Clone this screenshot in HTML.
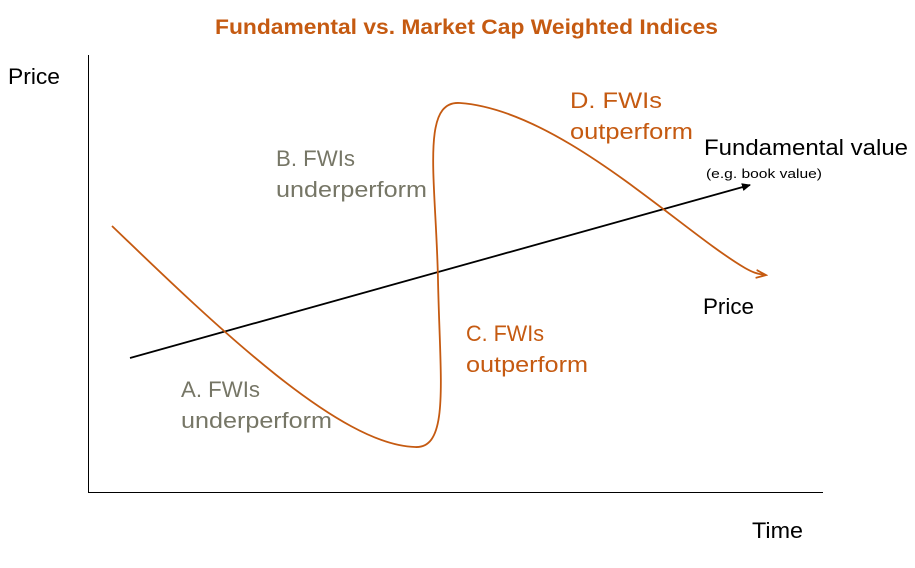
<!DOCTYPE html>
<html><head><meta charset="utf-8"><style>
html,body{margin:0;padding:0;background:#fff;}
svg{display:block;}
text{font-family:"Liberation Sans",sans-serif;}
</style></head><body>
<svg width="915" height="568" viewBox="0 0 915 568" xmlns="http://www.w3.org/2000/svg">
<defs>
<marker id="ab" markerWidth="10" markerHeight="10" refX="8" refY="5" orient="auto" markerUnits="userSpaceOnUse"><path d="M0,1 L9,5 L0,9 Z" fill="#000"/></marker>
<marker id="ao" markerWidth="12" markerHeight="10" refX="9" refY="5" orient="auto" markerUnits="userSpaceOnUse"><path d="M0,1 L10,5 L0,9" fill="none" stroke="#C55A11" stroke-width="1.8"/></marker>
</defs>
<text x="215" y="34" font-size="21" font-weight="bold" fill="#C55A11" textLength="503" lengthAdjust="spacingAndGlyphs">Fundamental vs. Market Cap Weighted Indices</text>
<text x="8" y="84" font-size="22" fill="#000" textLength="52" lengthAdjust="spacingAndGlyphs">Price</text>
<text x="752" y="538" font-size="22" fill="#000" textLength="51" lengthAdjust="spacingAndGlyphs">Time</text>
<line x1="88.5" y1="55" x2="88.5" y2="492" stroke="#000" stroke-width="1"/>
<line x1="88" y1="492.5" x2="823" y2="492.5" stroke="#000" stroke-width="1"/>
<line x1="130" y1="358" x2="750" y2="185" stroke="#000" stroke-width="1.8" marker-end="url(#ab)"/>
<path d="M112,226 C220,330 340,445 415,447 C450,449 440,380 438,280 C436,180 420,100 460,103 C560,110 680,230 745,268 C752,272 757,274 765,275" fill="none" stroke="#C55A11" stroke-width="1.8" marker-end="url(#ao)"/>
<text x="704" y="155" font-size="22" fill="#000" textLength="204" lengthAdjust="spacingAndGlyphs">Fundamental value</text>
<text x="706" y="178" font-size="13" fill="#000" textLength="116" lengthAdjust="spacingAndGlyphs">(e.g. book value)</text>
<text x="703" y="314" font-size="22" fill="#000" textLength="51" lengthAdjust="spacingAndGlyphs">Price</text>
<text x="276" y="166" font-size="22" fill="#767666" textLength="79" lengthAdjust="spacingAndGlyphs">B. FWIs</text>
<text x="276" y="197" font-size="22" fill="#767666" textLength="151" lengthAdjust="spacingAndGlyphs">underperform</text>
<text x="181" y="397" font-size="22" fill="#767666" textLength="79" lengthAdjust="spacingAndGlyphs">A. FWIs</text>
<text x="181" y="428" font-size="22" fill="#767666" textLength="151" lengthAdjust="spacingAndGlyphs">underperform</text>
<text x="466" y="341" font-size="22" fill="#C55A11" textLength="78" lengthAdjust="spacingAndGlyphs">C. FWIs</text>
<text x="466" y="372" font-size="22" fill="#C55A11" textLength="122" lengthAdjust="spacingAndGlyphs">outperform</text>
<text x="570" y="108" font-size="22" fill="#C55A11" textLength="92" lengthAdjust="spacingAndGlyphs">D. FWIs</text>
<text x="570" y="139" font-size="22" fill="#C55A11" textLength="123" lengthAdjust="spacingAndGlyphs">outperform</text>
</svg>
</body></html>
